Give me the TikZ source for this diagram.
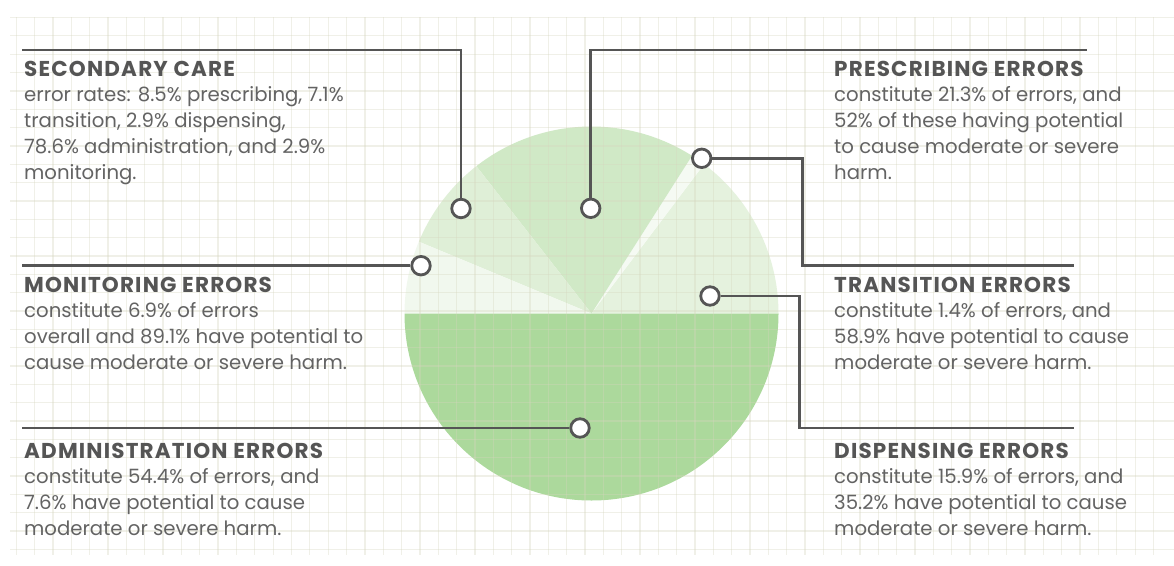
\documentclass[tikz,border=0pt]{standalone}
\usepackage{fontspec}
\setmainfont{Poppins}
\usetikzlibrary{positioning}
\definecolor{ln}{HTML}{555555}
\definecolor{tx}{HTML}{636363}
\definecolor{hd}{HTML}{555555}
\definecolor{gr}{HTML}{D6D6BE}
\definecolor{wadm}{HTML}{ACD99C}
\definecolor{wpre}{HTML}{D0E9C6}
\definecolor{wsec}{HTML}{DFEFD7}
\definecolor{wdis}{HTML}{E5F2DE}
\definecolor{wmon}{HTML}{F1F8EE}
\definecolor{wtra}{HTML}{F5FAF3}
\newcommand{\blocktext}[2]{\parbox[t]{420pt}{\leavevmode\raggedright{\color{hd}\fontsize{21.5}{25.8}\selectfont\addfontfeature{LetterSpace=5.5}\textbf{#1}}\\#2}}
\tikzset{knob/.style={circle,draw=ln,fill=white,line width=2.8pt,minimum size=18.5pt,inner sep=0pt}}
\tikzset{cn/.style={draw=ln,line width=2.6pt}}
\tikzset{blk/.style={inner sep=0pt,text=tx,anchor=base west,font=\fontsize{19.7}{25.8}\selectfont}}

\begin{document}
\begin{tikzpicture}[x=1pt,y=-1pt]
\useasboundingbox (0,0) rectangle (1174,565);
\fill[white] (0,0) rectangle (1174,565);

% pie
\coordinate (ctr) at (591.5,313.5);
\def\R{187pt}
\foreach \a/\b/\c in {0/53/wdis, 53/57.5/wtra, 57.5/128/wpre, 128/157.4/wsec, 157.4/180/wmon, 180/360/wadm}
  \fill[\c] (ctr) -- ++(\a:\R) arc[start angle=\a, end angle=\b, radius=\R] -- cycle;

% grid
\begin{scope}[draw=gr,draw opacity=0.35,line width=1.3pt]
\foreach \k in {0,...,62}
  \draw (16.4+18.34*\k,17) -- (16.4+18.34*\k,555);
\foreach \k in {0,...,29}
  \draw (10,17.5+18.34*\k) -- (1174,17.5+18.34*\k);
\end{scope}

% markers
\node[knob] (cSec) at (461,208.5) {};
\node[knob] (cPre) at (590.7,208.3) {};
\node[knob] (cMon) at (421,265.7) {};
\node[knob] (cTra) at (701.7,158.3) {};
\node[knob] (cDis) at (710,296) {};
\node[knob] (cAdm) at (580,428) {};

\coordinate (secEnd) at (22,50);
\coordinate (preEnd) at (1087,50);
\coordinate (monEnd) at (22,265.7);
\coordinate (admEnd) at (22,428);
\coordinate (traK) at (802.5,265.7);
\coordinate (traEnd) at (1074,265.7);
\coordinate (disK) at (799.5,428);
\coordinate (disEnd) at (1074,428);

\draw[cn] (cSec.north) |- (secEnd);
\draw[cn] (cPre.north) |- (preEnd);
\draw[cn] (cMon.west) -- (monEnd);
\draw[cn] (cAdm.west) -- (admEnd);
\draw[cn] (cTra.east) -| (traK) -- (traEnd);
\draw[cn] (cDis.east) -| (disK) -- (disEnd);

% labels
\node[blk] (tSec) at (24,76) {\blocktext{SECONDARY CARE}{error rates: 8.5\% prescribing, 7.1\%\\transition, 2.9\% dispensing,\\78.6\% administration, and 2.9\%\\monitoring.}};
\node[blk] (tMon) at (24,292) {\blocktext{MONITORING ERRORS}{constitute 6.9\% of errors\\overall and 89.1\% have potential to\\cause moderate or severe harm.}};
\node[blk] (tAdm) at (24,458) {\blocktext{ADMINISTRATION ERRORS}{constitute 54.4\% of errors, and\\7.6\% have potential to cause\\moderate or severe harm.}};
\node[blk] (tPre) at (834,76) {\blocktext{PRESCRIBING ERRORS}{constitute 21.3\% of errors, and\\52\% of these having potential\\to cause moderate or severe\\harm.}};
\node[blk] (tTra) at (834,292) {\blocktext{TRANSITION ERRORS}{constitute 1.4\% of errors, and\\58.9\% have potential to cause\\moderate or severe harm.}};
\node[blk] (tDis) at (834,458) {\blocktext{DISPENSING ERRORS}{constitute 15.9\% of errors, and\\35.2\% have potential to cause\\moderate or severe harm.}};
\end{tikzpicture}
\end{document}
